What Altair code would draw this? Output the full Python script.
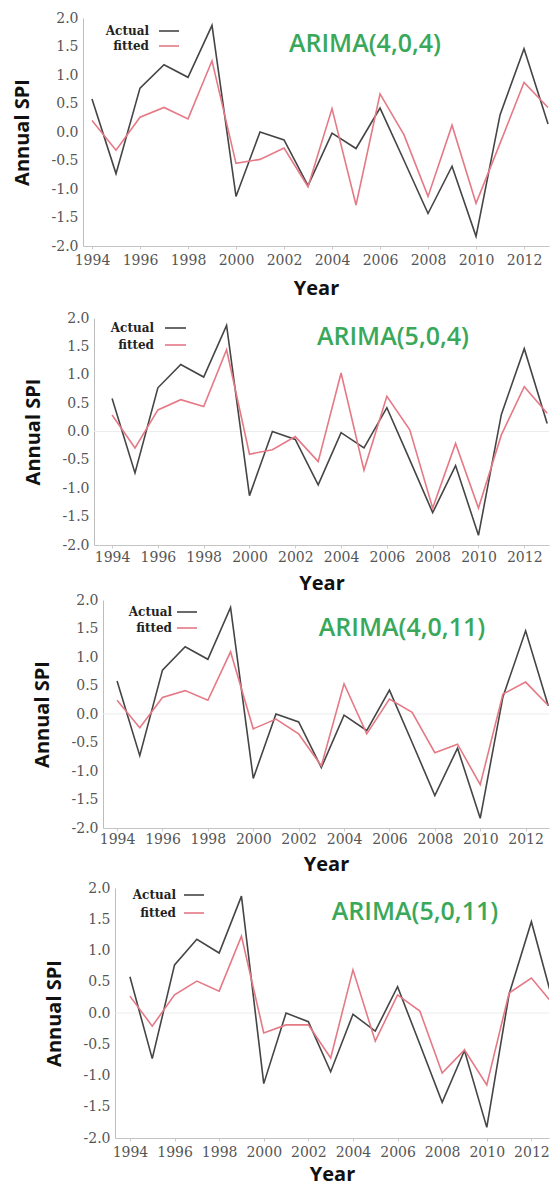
import altair as alt
import pandas as pd

# ---------------- data ----------------
years = list(range(1994, 2014))
actual = [0.58, -0.73, 0.77, 1.18, 0.96, 1.87, -1.13, 0.0, -0.14, -0.94,
          -0.02, -0.29, 0.42, -0.5, -1.43, -0.6, -1.83, 0.3, 1.46, 0.14]
fitted_404 = [0.2, -0.32, 0.26, 0.43, 0.23, 1.25, -0.55, -0.48, -0.28, -0.96,
              0.41, -1.28, 0.67, -0.05, -1.13, 0.12, -1.25, -0.2, 0.87, 0.43]
fitted_504 = [0.29, -0.29, 0.38, 0.56, 0.44, 1.44, -0.4, -0.32, -0.09, -0.53,
              1.03, -0.68, 0.62, 0.03, -1.35, -0.21, -1.35, -0.06, 0.79, 0.32]
fitted_4011 = [0.24, -0.24, 0.29, 0.41, 0.24, 1.09, -0.26, -0.09, -0.35, -0.91,
               0.53, -0.35, 0.26, 0.03, -0.68, -0.53, -1.24, 0.35, 0.56, 0.15]
fitted_5011 = [0.27, -0.21, 0.29, 0.51, 0.35, 1.23, -0.32, -0.19, -0.19, -0.72,
               0.69, -0.45, 0.29, 0.03, -0.96, -0.59, -1.15, 0.32, 0.56, 0.13]
models = ["ARIMA(4,0,4)", "ARIMA(5,0,4)", "ARIMA(4,0,11)", "ARIMA(5,0,11)"]
fitted_all = [fitted_404, fitted_504, fitted_4011, fitted_5011]
series_names = ["Actual", "fitted"]
x_ticks = list(range(1994, 2013, 2))
y_ticks = [-2.0, -1.5, -1.0, -0.5, 0.0, 0.5, 1.0, 1.5, 2.0]

# ---------------- styling / layout ----------------
series_colors = ["#454545", "#e57986"]
title_green = "#3aa85a"

layouts = [
    dict(sw=1, sh=293, w=466, h=228, xdom=[1993.625, 2013.04], xlp=4, xtp=11, zero=False,
         leg_tx=66, leg_l=(76, 96), leg_y=(13, 28), tt=(282, 26)),
    dict(sw=12, sh=274, w=455, h=227, xdom=[1993.21, 2013.08], xlp=2, xtp=9, zero=True,
         leg_tx=60, leg_l=(71, 92), leg_y=(10, 27), tt=(299, 19)),
    dict(sw=21, sh=281, w=446, h=228, xdom=[1993.38, 2013.03], xlp=1, xtp=8, zero=True,
         leg_tx=69, leg_l=(74, 94), leg_y=(12, 28), tt=(299, 28)),
    dict(sw=33, sh=1, w=434, h=250, xdom=[1993.33, 2012.79], xlp=4, xtp=5, zero=True,
         leg_tx=61, leg_l=(69, 89), leg_y=(7, 25), tt=(300, 24)),
]

label_font = "DejaVu Serif"


def make_panel(model, fitted, L):
    df = pd.DataFrame({
        "Year": years + years,
        "SPI": actual + fitted,
        "Series": [series_names[0]] * len(years) + [series_names[1]] * len(years),
    })
    x = alt.X("Year:Q",
              scale=alt.Scale(domain=L["xdom"], nice=False, zero=False),
              axis=alt.Axis(values=x_ticks, format="d", title="Year", grid=False,
                            labelFont=label_font, labelFontSize=14,
                            labelColor="#555555", labelPadding=L["xlp"], labelOverlap=False,
                            labelFlush=False, tickSize=3, tickColor="#cccccc",
                            domainColor="#c4c4c4", titleFont="Open Sans",
                            titleFontWeight="bold", titleFontSize=20,
                            titleColor="#111111", titlePadding=L["xtp"]))
    y = alt.Y("SPI:Q",
              scale=alt.Scale(domain=[-2, 2], nice=False, zero=False),
              axis=alt.Axis(values=y_ticks,
                            labelExpr="replace(format(datum.value, '.1f'), '\u2212', '-')",
                            title="Annual SPI", grid=False, ticks=False,
                            labelFont=label_font, labelFontSize=14,
                            labelColor="#555555", labelPadding=5, labelOverlap=False,
                            domainColor="#bdbdbd", titleFont="Open Sans",
                            titleFontWeight="bold", titleFontSize=20,
                            titleColor="#111111", titlePadding=19))
    layers = []
    if L["zero"]:
        layers.append(
            alt.Chart(pd.DataFrame({"SPI": [0.0]}))
            .mark_rule(color="#ececec", strokeWidth=1)
            .encode(y=y)
        )
    layers.append(
        alt.Chart(df).mark_line(strokeWidth=1.6, clip=True).encode(
            x=x, y=y,
            color=alt.Color("Series:N",
                            scale=alt.Scale(domain=series_names, range=series_colors),
                            legend=None),
        )
    )
    # manual legend
    for i, name in enumerate(series_names):
        ldf = pd.DataFrame({"label": [name]})
        layers.append(
            alt.Chart(ldf).mark_text(align="right", baseline="middle",
                                     font="DejaVu Serif", fontWeight="bold",
                                     fontSize=12, color="#222222").encode(
                x=alt.value(L["leg_tx"]), y=alt.value(L["leg_y"][i]),
                text="label:N")
        )
        layers.append(
            alt.Chart(ldf).mark_rule(strokeWidth=1.6, color=series_colors[i]).encode(
                x=alt.value(L["leg_l"][0]), x2=alt.value(L["leg_l"][1]),
                y=alt.value(L["leg_y"][i]))
        )
    # model title
    layers.append(
        alt.Chart(pd.DataFrame({"model": [model]})).mark_text(
            align="center", baseline="middle", font="Open Sans", fontWeight=600,
            fontSize=25, color=title_green).encode(
            x=alt.value(L["tt"][0]), y=alt.value(L["tt"][1]), text="model:N")
    )
    panel = alt.layer(*layers).properties(width=L["w"], height=L["h"])
    spacer = (alt.Chart(pd.DataFrame({"v": [0]}))
              .mark_point(opacity=0, size=1)
              .encode(x=alt.value(L["sw"] / 2), y=alt.value(L["sh"] / 2))
              .properties(width=L["sw"], height=L["sh"]))
    return alt.hconcat(spacer, panel, spacing=0)


rows = [make_panel(m, f, L) for m, f, L in zip(models, fitted_all, layouts)]
chart = (alt.vconcat(*rows, spacing=0)
         .properties(padding={"left": 3, "top": 3, "right": 0, "bottom": 4})
         .configure_view(stroke=None))

chart.save("out.html", embed_options={"renderer": "svg", "actions": False})
